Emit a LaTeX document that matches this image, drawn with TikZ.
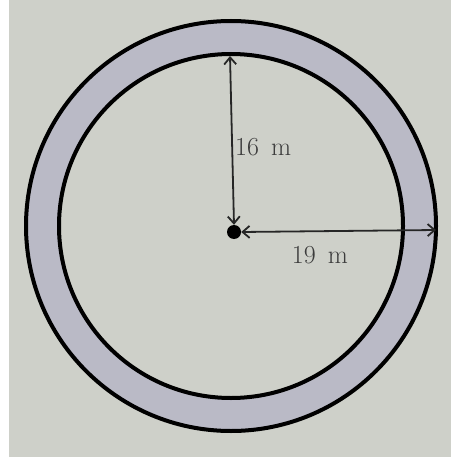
\documentclass[tikz,border=0pt]{standalone}
\usetikzlibrary{arrows.meta}
\definecolor{bg}{RGB}{206,208,201}
\definecolor{ringfill}{RGB}{186,186,198}
\definecolor{txt}{RGB}{60,60,60}
\tikzset{
  ringline/.style={line width=4pt, draw=black},
  dimline/.style={line width=1.8pt, draw=black!85, {Straight Barb[length=7pt,width=12pt]}-{Straight Barb[length=7pt,width=12pt]}},
  centerdot/.style={circle, fill=black, inner sep=0pt, minimum size=14pt},
  dimlabel/.style={text=txt, font=\fontsize{26}{28}\selectfont, inner sep=0pt}
}
\begin{document}
\begin{tikzpicture}[x=1pt,y=-1pt]
\useasboundingbox (0,0) rectangle (451,457);
\fill[white] (0,0) rectangle (9,457);
\fill[bg] (9,0) rectangle (451,457);
\coordinate (O) at (231,226);
% ring
\fill[ringfill, even odd rule] (O) circle[radius=205] (O) circle[radius=172];
\draw[ringline] (O) circle[radius=205];
\draw[ringline] (O) circle[radius=172];
% center
\node[centerdot] (c) at (234,232) {};
\coordinate (top) at (230,56);
\coordinate (right) at (436,230);
\draw[dimline] (top) -- (c.north);
\draw[dimline] (c.east) -- (right);
\node[dimlabel, anchor=west] (l16) at (235,147) {16\ \,m};
\node[dimlabel] (l19) at (320,255) {19\ \,m};
\end{tikzpicture}
\end{document}
